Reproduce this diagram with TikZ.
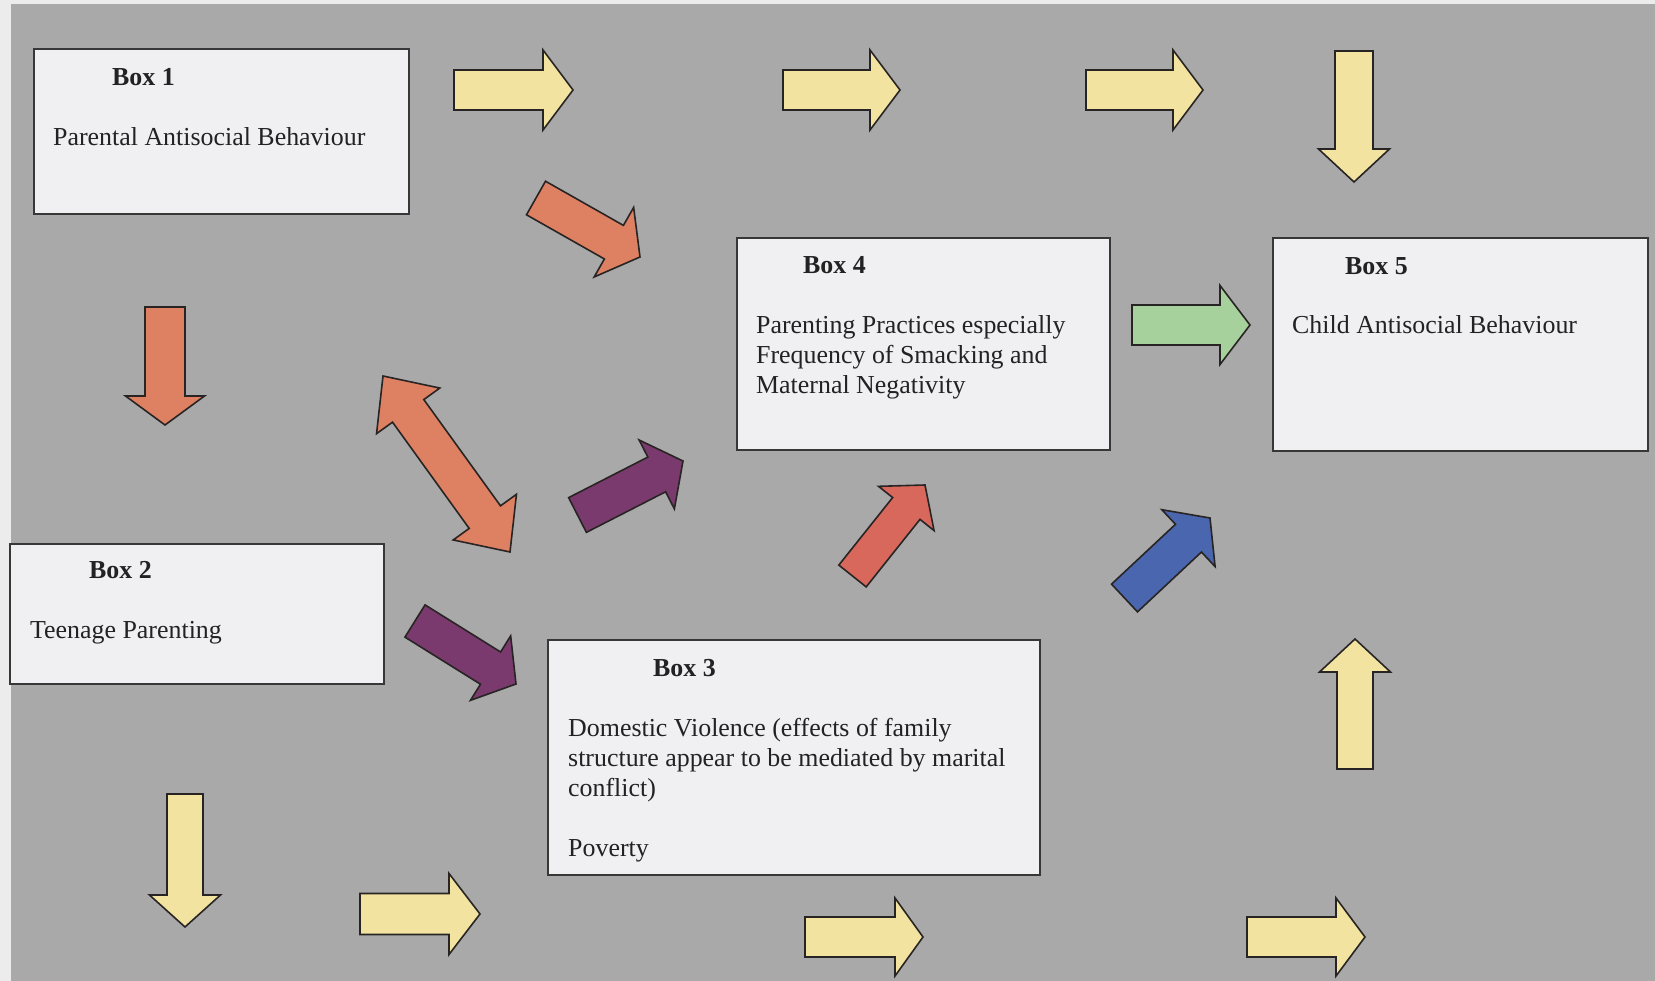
\documentclass[tikz,border=0pt]{standalone}
\usepackage{fontspec}
\setmainfont{Liberation Serif}
\usetikzlibrary{calc}
\definecolor{bgGray}{RGB}{169,169,170}
\definecolor{edgeLight}{RGB}{236,236,236}
\definecolor{boxFill}{RGB}{240,240,242}
\definecolor{boxLine}{RGB}{55,55,55}
\definecolor{arrLine}{RGB}{40,36,36}
\definecolor{txtCol}{RGB}{34,34,34}
\definecolor{yel}{RGB}{242,228,160}
\definecolor{ora}{RGB}{222,128,98}
\definecolor{redd}{RGB}{216,104,92}
\definecolor{blu}{RGB}{74,102,174}
\definecolor{pur}{RGB}{122,58,110}
\definecolor{grn}{RGB}{166,208,156}
\tikzset{
  box/.style={draw=boxLine, line width=2pt, fill=boxFill, anchor=north west, inner sep=0pt},
  txt/.style={anchor=base west, inner sep=0pt, text=txtCol, font=\fontsize{25.9}{30}\selectfont},
  ttl/.style={anchor=base west, inner sep=0pt, text=txtCol, font=\fontsize{25.9}{30}\selectfont\bfseries},
  arrowline/.style={draw=arrLine, line width=1.6pt, line join=miter},
}
% name, fill, tail, tip, shaft half width, head half width, head length
\newcommand\blockarrow[7]{%
  \coordinate (#1t) at (#3);
  \coordinate (#1p) at (#4);
  \coordinate (#1b) at ($(#1p)!#7!(#1t)$);
  \draw[arrowline, fill=#2]
    ($(#1t)!#5!90:(#1p)$) -- ($(#1b)!#5!90:(#1p)$) -- ($(#1b)!#6!90:(#1p)$) -- (#1p)
    -- ($(#1b)!#6!-90:(#1p)$) -- ($(#1b)!#5!-90:(#1p)$) -- ($(#1t)!#5!-90:(#1p)$) -- cycle;
}
% name, fill, end A, end B, shaft half width, head half width, head length
\newcommand\doubleblockarrow[7]{%
  \coordinate (#1t) at (#3);
  \coordinate (#1p) at (#4);
  \coordinate (#1b) at ($(#1p)!#7!(#1t)$);
  \coordinate (#1c) at ($(#1t)!#7!(#1p)$);
  \draw[arrowline, fill=#2]
    (#1t) -- ($(#1c)!#6!90:(#1p)$) -- ($(#1c)!#5!90:(#1p)$) -- ($(#1b)!#5!90:(#1p)$)
    -- ($(#1b)!#6!90:(#1p)$) -- (#1p) -- ($(#1b)!#6!-90:(#1p)$) -- ($(#1b)!#5!-90:(#1p)$)
    -- ($(#1c)!#5!-90:(#1p)$) -- ($(#1c)!#6!-90:(#1p)$) -- cycle;
}
\begin{document}
\begin{tikzpicture}[x=1pt, y=-1pt]
  \fill[edgeLight] (0,0) rectangle (1655,981);
  \fill[bgGray] (11,4) rectangle (1655,981);
  \useasboundingbox (0,0) rectangle (1655,981);

  % boxes
  \node[box, minimum width=375pt, minimum height=165pt] (box1) at (33,48) {};
  \node[box, minimum width=374pt, minimum height=140pt] (box2) at (9,543) {};
  \node[box, minimum width=492pt, minimum height=235pt] (box3) at (547,639) {};
  \node[box, minimum width=373pt, minimum height=212pt] (box4) at (736,237) {};
  \node[box, minimum width=375pt, minimum height=213pt] (box5) at (1272,237) {};

  % texts
  \node[ttl] (t1) at (112,86) {Box 1};
  \node[txt] (t1a) at (53,146) {Parental Antisocial Behaviour};

  \node[ttl] (t2) at (89,578) {Box 2};
  \node[txt] (t2a) at (30,638) {Teenage Parenting};

  \node[ttl] (t3) at (653,676) {Box 3};
  \node[txt] (t3a) at (568,736.5) {Domestic Violence (effects of family};
  \node[txt] (t3b) at (568,766.5) {structure appear to be mediated by marital};
  \node[txt] (t3c) at (568,796.5) {conflict)};
  \node[txt] (t3d) at (568,856.5) {Poverty};

  \node[ttl] (t4) at (803,274) {Box 4};
  \node[txt] (t4a) at (756,334) {Parenting Practices especially};
  \node[txt] (t4b) at (756,364) {Frequency of Smacking and};
  \node[txt] (t4c) at (756,394) {Maternal Negativity};

  \node[ttl] (t5) at (1345,275) {Box 5};
  \node[txt] (t5a) at (1292,334) {Child Antisocial Behaviour};

  % top row yellow arrows
  \blockarrow{ya}{yel}{454,90}{573,90}{20pt}{40pt}{30pt}
  \blockarrow{yb}{yel}{783,90}{900,90}{20pt}{40pt}{30pt}
  \blockarrow{yc}{yel}{1086,90}{1203,90}{20pt}{40pt}{30pt}
  \blockarrow{yd}{yel}{1354,51}{1354,182}{19pt}{35.5pt}{33pt}

  % bottom row yellow arrows
  \blockarrow{ye}{yel}{185,794}{185,927}{18pt}{35.5pt}{32pt}
  \blockarrow{yf}{yel}{360,914}{480,914}{20.5pt}{40.5pt}{31pt}
  \blockarrow{yg}{yel}{805,937}{923,937}{20pt}{39pt}{28pt}
  \blockarrow{yh}{yel}{1247,937}{1365,937}{20pt}{39pt}{29pt}
  \blockarrow{yi}{yel}{1355,769}{1355,639}{18pt}{35.5pt}{33pt}

  % coloured arrows
  \blockarrow{oa}{ora}{165,307}{165,425}{20pt}{39.5pt}{29pt}
  \blockarrow{ob}{ora}{536,198}{640,257}{19.3pt}{40pt}{30pt}
  \doubleblockarrow{oc}{ora}{383,376}{510,552}{19.3pt}{39pt}{43pt}
  \blockarrow{pa}{pur}{577.5,515}{683,461}{19.5pt}{38.7pt}{29.5pt}
  \blockarrow{pb}{pur}{415,621}{516,684}{19pt}{38pt}{30pt}
  \blockarrow{ra}{redd}{852.5,576}{925,485}{17.5pt}{35.5pt}{30pt}
  \blockarrow{ba}{blu}{1124.5,598}{1210,518}{19pt}{39pt}{29.5pt}
  \blockarrow{ga}{grn}{1132,325}{1250,325}{20pt}{39.5pt}{30pt}
\end{tikzpicture}
\end{document}
